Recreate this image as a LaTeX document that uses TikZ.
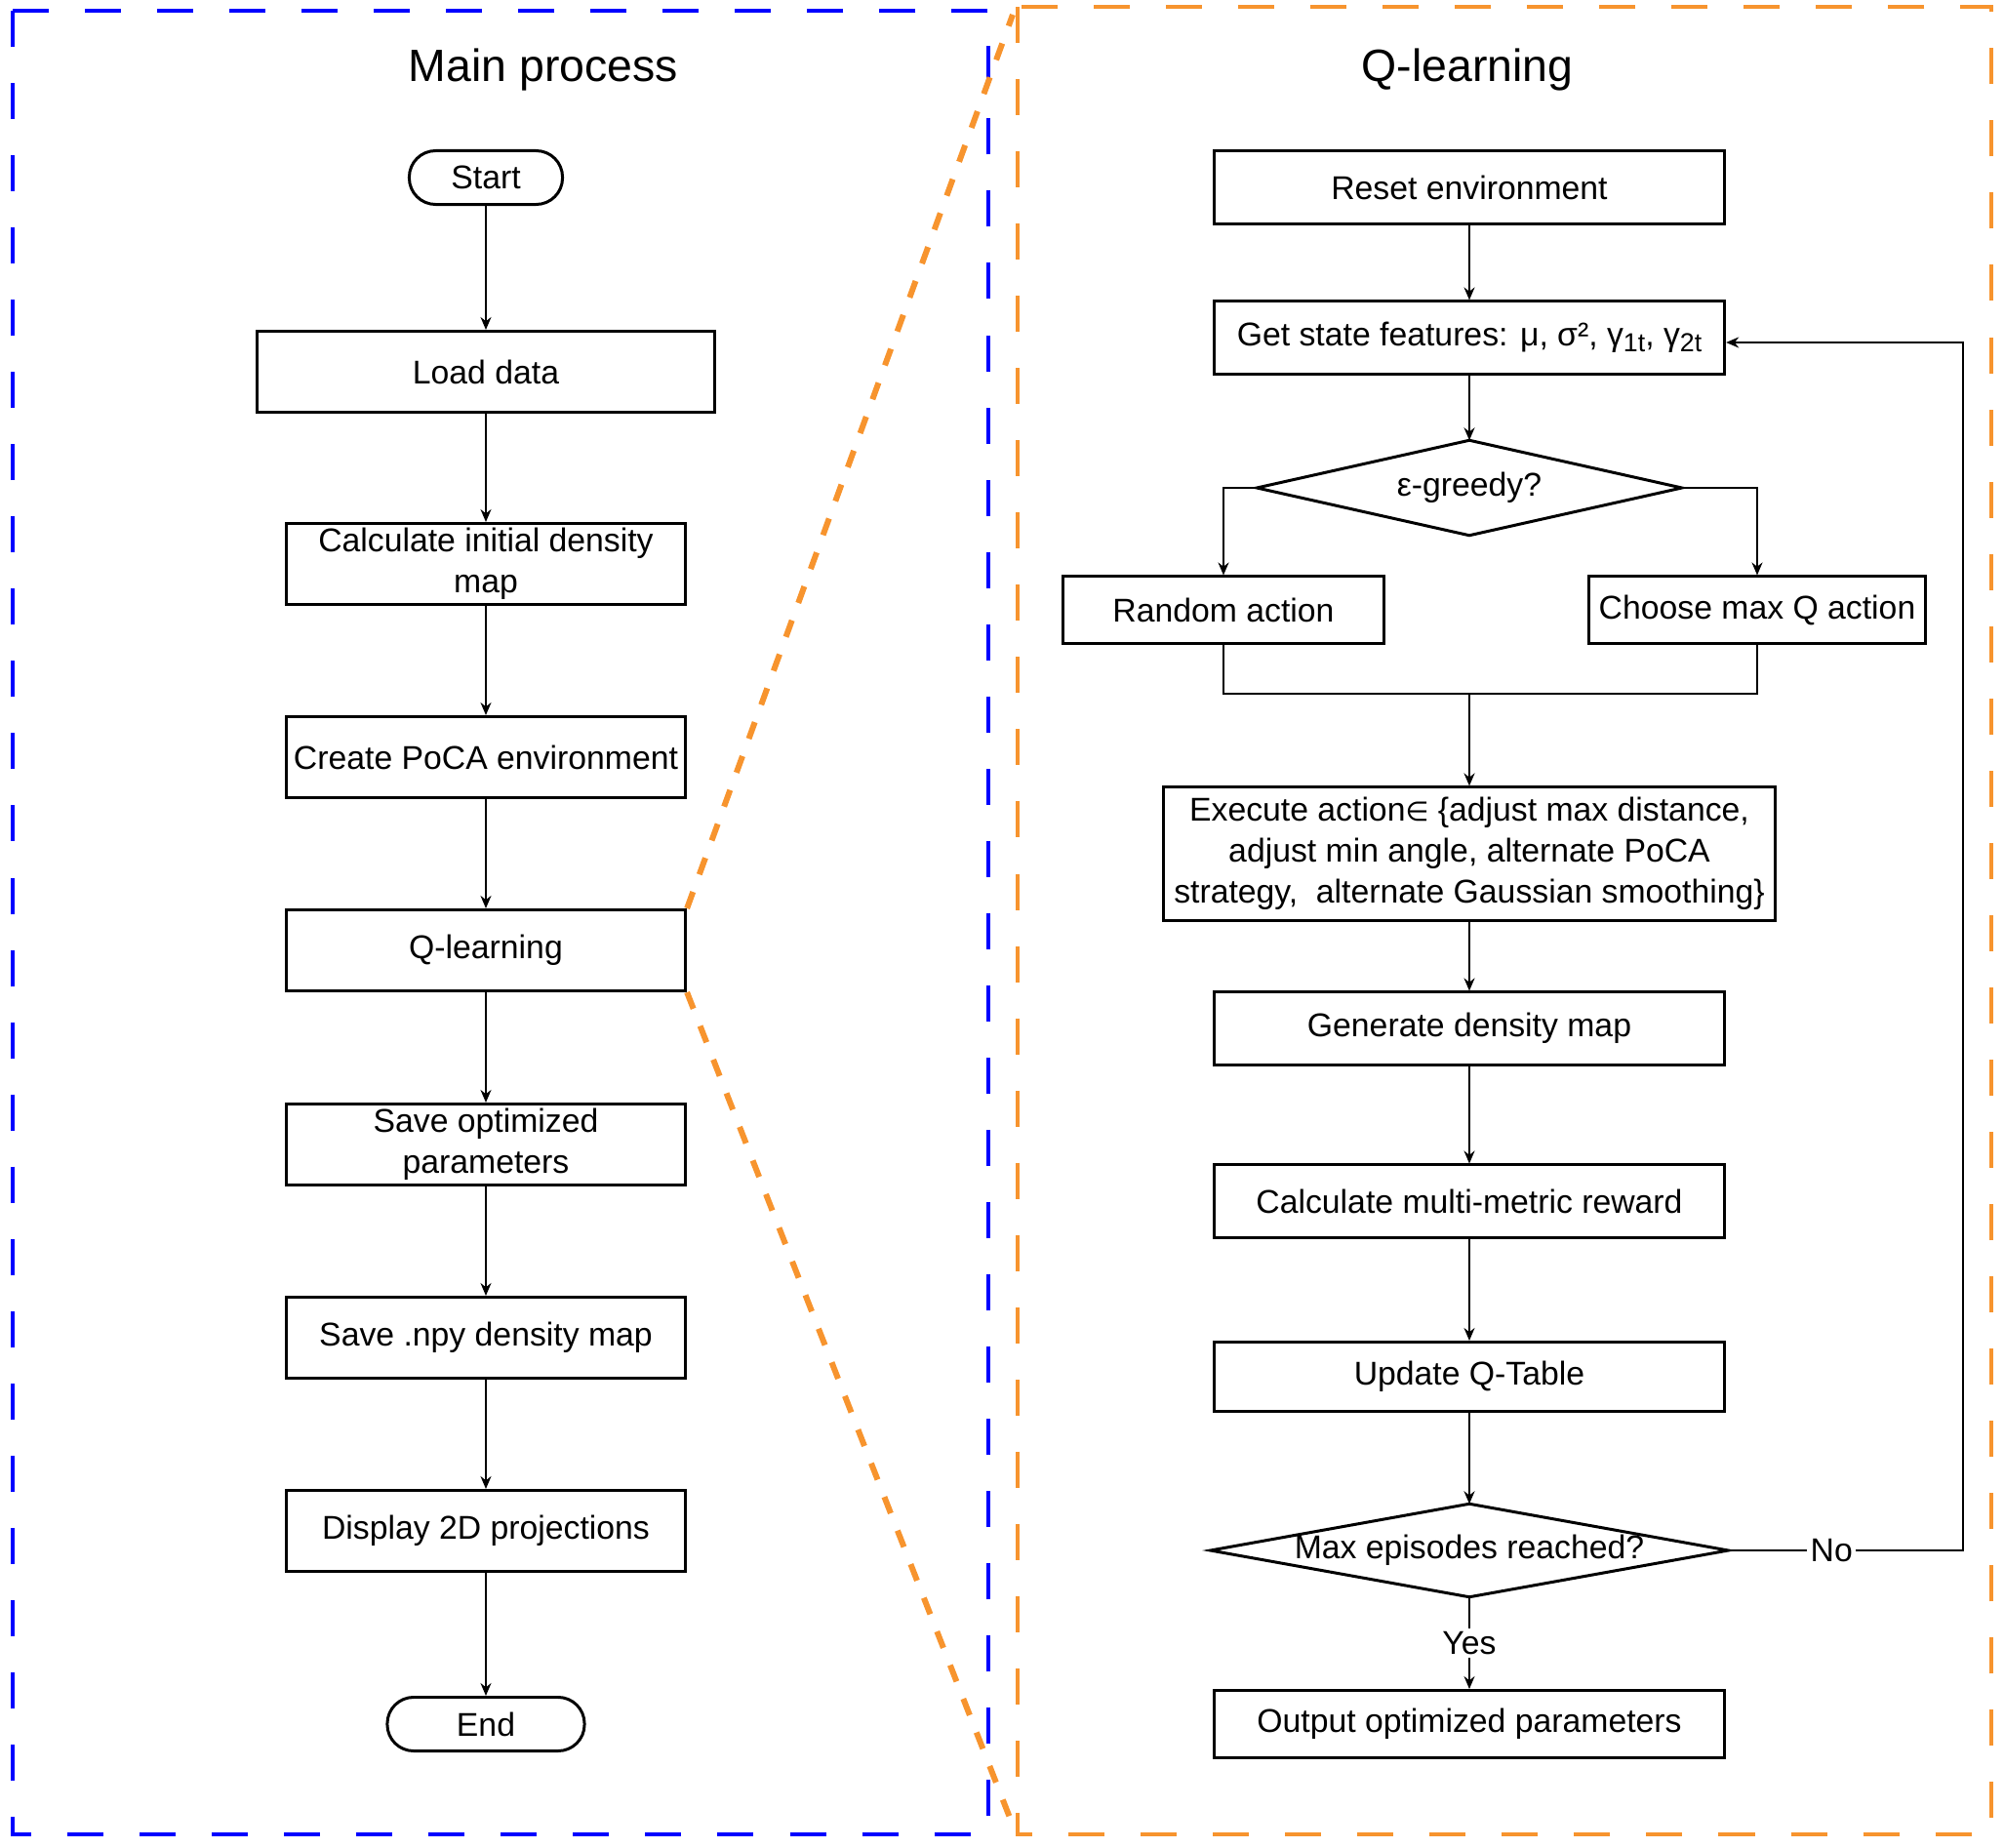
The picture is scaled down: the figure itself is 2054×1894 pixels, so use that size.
\documentclass[tikz,border=0pt]{standalone}
\usepackage{fontspec}
\setmainfont{Liberation Sans}
\newfontfamily\symfont{DejaVu Sans}
\usetikzlibrary{arrows.meta}
\definecolor{frameblue}{RGB}{0,0,255}
\definecolor{frameorange}{RGB}{247,148,46}
\newcommand{\lowidx}[1]{\raisebox{-0.3ex}{\fontsize{7.6}{8}\selectfont #1}}

\begin{document}
\begin{tikzpicture}[x=0.01cm, y=-0.01cm,
  font=\fontsize{9.6}{12}\selectfont,
  every node/.style={inner sep=1pt},
  box/.style={draw, line width=0.85pt, align=center, minimum height=0.83cm},
  qbox/.style={box, minimum width=5.23cm, minimum height=0.74cm},
  terminal/.style={draw, line width=0.85pt, rounded corners=2.7mm, minimum height=0.55cm},
  arr/.style={-{Stealth[length=1.3mm,width=1.1mm]}, line width=0.45pt},
  link/.style={line width=0.45pt},
  title/.style={font=\fontsize{13.2}{15}\selectfont}]
  \useasboundingbox (0,0) rectangle (2054,1894);

  \draw[frameblue, line width=1.1pt, dash pattern=on 0.37cm off 0.37cm] (13,11) rectangle (1013,1880);
  \draw[frameorange, line width=1pt, dash pattern=on 0.37cm off 0.37cm] (1043,7) rectangle (2041,1880);

  \node[title] (maintitle) at (557,72) {Main process};
  \node[title] (qtitle) at (1504,72) {Q-learning};

  \node[terminal, minimum width=1.57cm] (start) at (498,182) {Start};
  \foreach \nm/\yy/\ww/\txt in {load/381/4.69/Load data,
      calc/578/4.09/{Calculate initial density\\map},
      poca/776/4.09/Create PoCA environment,
      qlearn/974/4.09/Q-learning,
      saveopt/1173/4.09/{Save optimized\\parameters},
      savenpy/1371/4.09/Save .npy density map,
      disp/1569/4.09/Display 2D projections}
    \node[box, minimum width=\ww cm] (\nm) at (498,\yy) {\txt};
  \node[terminal, minimum width=2.02cm] (stop) at (498,1767) {End};
  \foreach \a/\b in {start/load, load/calc, calc/poca, poca/qlearn,
      qlearn/saveopt, saveopt/savenpy, savenpy/disp, disp/stop}
    \draw[arr] (\a) -- (\b);

  \node[qbox] (reset) at (1506,192) {Reset environment};
  \node[qbox] (state) at (1506,346) {Get state features: μ, σ², γ\lowidx{1t}, γ\lowidx{2t}};
  \node[minimum width=4.34cm, minimum height=0.96cm] (eps) at (1506,500) {ε-greedy?};
  \node[box, minimum width=3.29cm, minimum height=0.68cm] (rand) at (1254,625) {Random action};
  \node[box, minimum width=3.45cm, minimum height=0.68cm] (maxq) at (1801,625) {Choose max Q action};
  \coordinate (merge) at (1506,711);
  \node[box, minimum width=6.27cm, minimum height=1.36cm] (exec) at (1506,875)
    {Execute action{\symfont\fontsize{7.8}{12}\selectfont ∈} \{adjust max distance,\\adjust min angle, alternate PoCA\\strategy,~ alternate Gaussian smoothing\}};
  \node[qbox] (gen) at (1506,1054) {Generate density map};
  \node[qbox] (reward) at (1506,1231) {Calculate multi-metric reward};
  \node[qbox, minimum height=0.71cm] (update) at (1506,1411) {Update Q-Table};
  \node[minimum width=5.29cm, minimum height=0.94cm] (maxep) at (1506,1589) {Max episodes reached?};
  \node[qbox, minimum height=0.69cm] (out) at (1506,1767) {Output optimized parameters};
  \coordinate (loop) at (2012,1589);
  \foreach \d in {eps, maxep}
    \draw[line width=0.85pt] (\d.west) -- (\d.north) -- (\d.east) -- (\d.south) -- cycle;

  \draw[arr] (reset) -- (state);
  \draw[arr] (state) -- (eps.north);
  \draw[arr] (eps.west) -| (rand.north);
  \draw[arr] (eps.east) -| (maxq.north);
  \draw[link] (rand.south) |- (merge) -| (maxq.south);
  \draw[arr, line width=0.8pt] (merge) -- (exec);
  \draw[arr] (exec) -- (gen);
  \draw[arr] (gen) -- (reward);
  \draw[arr] (reward) -- (update);
  \draw[arr] (update) -- (maxep.north);
  \draw[arr] (maxep.south) -- node[fill=white] {Yes} (out);
  \draw[arr] (maxep.east) -- node[pos=0.44, fill=white] {No} (loop) |- ([yshift=-0.05cm]state.east);

  \coordinate (zoomtop) at (1038,15);
  \coordinate (zoombot) at (1037,1868);
  \draw[frameorange, line width=1.7pt, dash pattern=on 0.18cm off 0.19cm] (qlearn.north east) -- (zoomtop);
  \draw[frameorange, line width=1.7pt, dash pattern=on 0.18cm off 0.19cm] (qlearn.south east) -- (zoombot);
\end{tikzpicture}
\end{document}
